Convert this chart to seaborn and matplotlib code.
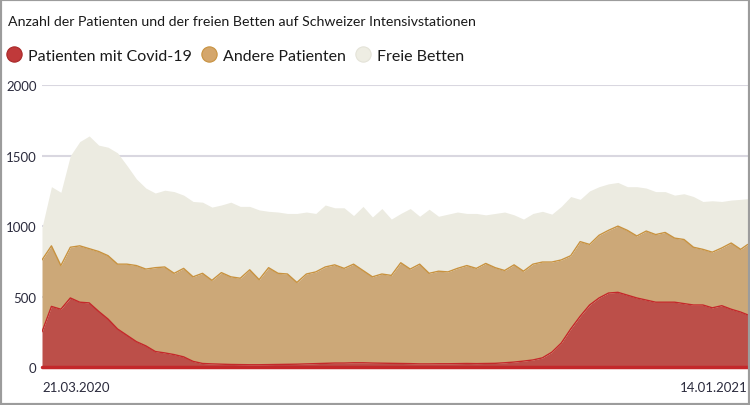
import pandas as pd
import matplotlib.pyplot as plt
import seaborn as sns
from matplotlib.lines import Line2D
from matplotlib.patches import Rectangle

start = "2020-03-21"
covid = [250, 430, 410, 490, 460, 455, 395, 340, 270, 225, 180, 150, 110, 100, 88, 72,
         40, 25, 22, 20, 18, 17, 16, 16, 17, 18, 19, 20, 22, 24, 26, 28, 28, 30, 30, 28,
         27, 26, 25, 24, 22, 22, 23, 23, 24, 25, 24, 25, 26, 30, 35, 42, 50, 65, 105, 170,
         270, 360, 440, 490, 525, 530, 510, 490, 475, 460, 460, 460, 450, 440, 440, 420,
         435, 410, 390, 370]
andere = [510, 430, 310, 360, 400, 385, 425, 450, 460, 505, 540, 545, 595, 610, 577, 628,
          600, 640, 593, 650, 622, 613, 674, 604, 688, 647, 641, 580, 638, 651, 684, 697,
          672, 700, 655, 612, 633, 624, 715, 671, 708, 643, 657, 652, 676, 695, 676, 710,
          679, 655, 690, 638, 680, 680, 640, 590, 520, 530, 430, 445, 445, 470, 460, 440,
          490, 480, 495, 455, 455, 410, 395, 395, 410, 470, 445, 500]
frei = [230, 420, 520, 650, 740, 800, 755, 770, 790, 700, 615, 575, 530, 545, 580, 520,
        535, 505, 520, 480, 530, 510, 450, 495, 400, 435, 430, 490, 440, 415, 440, 405,
        430, 345, 455, 425, 465, 400, 350, 430, 340, 455, 390, 410, 400, 370, 390, 345,
        385, 415, 355, 370, 360, 360, 340, 380, 420, 300, 380, 345, 330, 310, 310, 350,
        305, 305, 290, 305, 325, 360, 340, 365, 330, 305, 355, 325]

datum = pd.date_range(start, periods=75, freq="4D").append(pd.DatetimeIndex(["2021-01-14"]))
df = pd.DataFrame({"Datum": datum, "Covid": covid, "Andere": andere, "Frei": frei})
df["Top_Andere"] = df["Covid"] + df["Andere"]
df["Top_Frei"] = df["Top_Andere"] + df["Frei"]

rot, rot_linie = "#BC4F49", "#C4282A"
tan, tan_linie = "#CCA878", "#C8923F"
beige = "#ECEBE1"

sns.set_theme(style="white")
plt.rcParams["font.family"] = ["Lato", "DejaVu Sans"]

fig = plt.figure(figsize=(7.5, 4.06), dpi=100)
ax = fig.add_axes([0.056, 0.0936, 0.941, 0.694])

ax.stackplot(df["Datum"], df["Covid"], df["Andere"], df["Frei"],
             colors=[rot, tan, beige], linewidth=0)
sns.lineplot(data=df, x="Datum", y="Top_Andere", color=tan_linie, linewidth=1.0, ax=ax)
sns.lineplot(data=df, x="Datum", y="Covid", color=rot_linie, linewidth=1.0, ax=ax)
ax.axhline(0, color=rot_linie, linewidth=2.5, zorder=5, clip_on=False)

ax.set_ylim(0, 2000)
ax.set_xlim(df["Datum"].iloc[0], df["Datum"].iloc[-1])
ax.set_yticks([0, 500, 1000, 1500, 2000])
ax.yaxis.grid(True, color="#D9D7E0", linewidth=1.5)
ax.set_axisbelow(True)
for s in ax.spines.values():
    s.set_visible(False)
ax.tick_params(axis="y", length=0, pad=4, labelsize=9.5, labelcolor="#2B2B3D")
ax.set_xticks([df["Datum"].iloc[0], df["Datum"].iloc[-1]])
ax.set_xticklabels(["21.03.2020", "14.01.2021"])
ax.tick_params(axis="x", length=0, pad=10, labelsize=9.5, labelcolor="#2B2B3D")
lbls = ax.get_xticklabels()
lbls[0].set_ha("left")
lbls[1].set_ha("right")
ax.set_xlabel("")
ax.set_ylabel("")

fig.text(0.011, 0.945, "Anzahl der Patienten und der freien Betten auf Schweizer Intensivstationen",
         fontsize=10.2, color="#1A1A1A", va="center")

handles = [Line2D([], [], marker="o", linestyle="", markersize=11, markerfacecolor=c,
                  markeredgecolor=e, markeredgewidth=0.8)
           for c, e in [("#C0393A", "#A82828"), ("#D4A66B", "#C8923F"), ("#EEEDE3", "#E4E3D8")]]
fig.legend(handles, ["Patienten mit Covid-19", "Andere Patienten", "Freie Betten"],
           loc="center left", bbox_to_anchor=(0.008, 0.86), ncol=3, frameon=False,
           fontsize=11.5, handletextpad=0.35, columnspacing=0.6, handlelength=1.0,
           borderpad=0, borderaxespad=0, labelcolor="#1A1A1A")

fig.patches.append(Rectangle((0, 0), 1, 1, transform=fig.transFigure, fill=False,
                             edgecolor="#9C9C9C", linewidth=3))

fig.savefig("out.png", dpi=100)
